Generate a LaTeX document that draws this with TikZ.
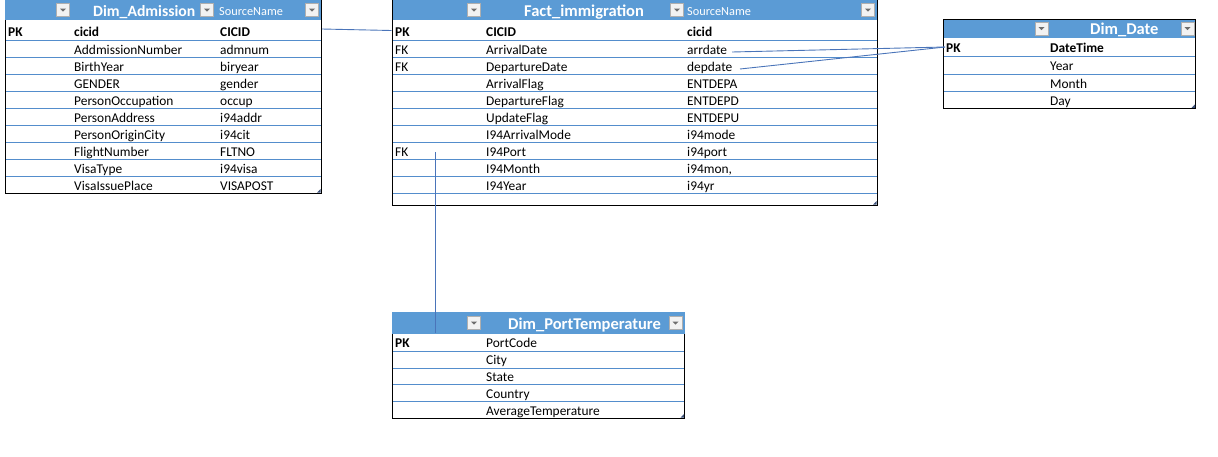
\documentclass[tikz,border=0pt]{standalone}
\usepackage{fontspec}
\setmainfont{Carlito}
\definecolor{hdr}{RGB}{91,155,213}
\definecolor{rowline}{RGB}{84,141,204}
\definecolor{connc}{RGB}{74,116,185}
\definecolor{btnfill}{RGB}{242,242,242}
\definecolor{btnline}{RGB}{175,175,175}
\definecolor{tric}{RGB}{110,110,110}
\definecolor{handlec}{RGB}{60,80,120}
\tikzset{
  cell/.style={anchor=base west, inner sep=0pt, yshift=-1pt, font=\fontsize{13.4}{15}\selectfont},
  bcell/.style={anchor=base west, inner sep=0pt, yshift=-1pt, font=\fontsize{13.4}{15}\selectfont\bfseries},
  ttl/.style={anchor=base west, inner sep=0pt, text=white, font=\fontsize{16.5}{19}\selectfont\bfseries},
  srcname/.style={anchor=base west, inner sep=0pt, text=white, font=\fontsize{12.3}{14}\selectfont},
  rowsep/.style={draw=rowline, line width=0.8pt},
  frame/.style={draw=black, line width=1pt},
  conn/.style={draw=connc, line width=0.9pt},
  btn/.style={draw=btnline, fill=btnfill, minimum size=13pt, inner sep=0pt, line width=0.6pt},
}
\newcommand\ddbtn[3]{%
  \node[btn] (#1) at (#2,#3) {};
  \fill[tric] ([xshift=-3pt,yshift=1.5pt]#1.center) -- ++(6pt,0pt) -- ++(-3pt,-3.2pt) -- cycle;}
\newcommand\rhandle[2]{\fill[handlec] (#1-3.5,#2) -- (#1,#2) -- (#1,#2-3.5) -- cycle;}
\begin{document}
\begin{tikzpicture}[x=1pt,y=-1pt]
\useasboundingbox (0,0) rectangle (1218,456);

% ---------------- Dim_Admission ----------------
\fill[hdr] (5,0) rectangle (321,20);
\foreach \y in {40.5,57.5,74.5,91.5,108.5,125.5,142.5,159.5,176.5}
  \draw[rowsep] (5,\y) -- (321,\y);
\draw[frame] (5,20) -- (5,193) -- (321.5,193) -- (321.5,0);
\rhandle{320.5}{192.5}
\ddbtn{admB1}{63}{10}
\ddbtn{admB2}{207}{10}
\ddbtn{admB3}{312}{10}
\node[ttl, font=\fontsize{15.7}{19}\selectfont\bfseries] (admT) at (93,16) {Dim\_Admission};
\node[srcname] (admS) at (219,15) {SourceName};
\node[bcell] (admPK) at (8,35) {PK};
\node[bcell] (adm0a) at (74,35) {cicid};
\node[bcell] (adm0b) at (220,35) {CICID};
\node[cell] (adm1a) at (74,53.3) {AddmissionNumber};
\node[cell] (adm1b) at (220,53.3) {admnum};
\node[cell] (adm2a) at (74,70.3) {BirthYear};
\node[cell] (adm2b) at (220,70.3) {biryear};
\node[cell] (adm3a) at (74,87.3) {GENDER};
\node[cell] (adm3b) at (220,87.3) {gender};
\node[cell] (adm4a) at (74,104.3) {PersonOccupation};
\node[cell] (adm4b) at (220,104.3) {occup};
\node[cell] (adm5a) at (74,121.3) {PersonAddress};
\node[cell] (adm5b) at (220,121.3) {i94addr};
\node[cell] (adm6a) at (74,138.3) {PersonOriginCity};
\node[cell] (adm6b) at (220,138.3) {i94cit};
\node[cell] (adm7a) at (74,155.3) {FlightNumber};
\node[cell] (adm7b) at (220,155.3) {FLTNO};
\node[cell] (adm8a) at (74,172.3) {VisaType};
\node[cell] (adm8b) at (220,172.3) {i94visa};
\node[cell] (adm9a) at (74,189.3) {VisaIssuePlace};
\node[cell] (adm9b) at (220,189.3) {VISAPOST};

% ---------------- Fact_immigration ----------------
\fill[hdr] (392,0) rectangle (877,20);
\foreach \y in {40.5,57.5,74.5,91.5,108.5,125.5,142.5,159.5,176.5,193.5}
  \draw[rowsep] (392,\y) -- (877,\y);
\draw[frame] (392,0) -- (392,205) -- (877.5,205) -- (877.5,0);
\rhandle{876.5}{204.5}
\ddbtn{facB1}{474}{10}
\ddbtn{facB2}{677}{10}
\ddbtn{facB3}{868}{10}
\node[ttl] (facT) at (524,16) {Fact\_immigration};
\node[srcname] (facS) at (687,15) {SourceName};
\node[bcell] (facPK) at (395,35) {PK};
\node[bcell] (fac0a) at (486,35) {CICID};
\node[bcell] (fac0b) at (687,35) {cicid};
\node[cell] (facFK1) at (395,53.3) {FK};
\node[cell] (fac1a) at (486,53.3) {ArrivalDate};
\node[cell] (fac1b) at (687,53.3) {arrdate};
\node[cell] (facFK2) at (395,70.3) {FK};
\node[cell] (fac2a) at (486,70.3) {DepartureDate};
\node[cell] (fac2b) at (687,70.3) {depdate};
\node[cell] (fac3a) at (486,87.3) {ArrivalFlag};
\node[cell] (fac3b) at (687,87.3) {ENTDEPA};
\node[cell] (fac4a) at (486,104.3) {DepartureFlag};
\node[cell] (fac4b) at (687,104.3) {ENTDEPD};
\node[cell] (fac5a) at (486,121.3) {UpdateFlag};
\node[cell] (fac5b) at (687,121.3) {ENTDEPU};
\node[cell] (fac6a) at (486,138.3) {I94ArrivalMode};
\node[cell] (fac6b) at (687,138.3) {i94mode};
\node[cell] (facFK3) at (395,155.3) {FK};
\node[cell] (fac7a) at (486,155.3) {I94Port};
\node[cell] (fac7b) at (687,155.3) {i94port};
\node[cell] (fac8a) at (486,172.3) {I94Month};
\node[cell] (fac8b) at (687,172.3) {i94mon,};
\node[cell] (fac9a) at (486,189.3) {I94Year};
\node[cell] (fac9b) at (687,189.3) {i94yr};

% ---------------- Dim_Date ----------------
\fill[hdr] (943.5,19) rectangle (1195.5,38);
\foreach \y in {56.7,74.3,91}
  \draw[rowsep] (943.5,\y) -- (1195.5,\y);
\draw[frame] (943.5,19) rectangle (1195.5,108.3);
\rhandle{1195}{107.8}
\ddbtn{datB1}{1041.5}{28.5}
\ddbtn{datB2}{1187.5}{28.5}
\node[ttl] (datT) at (1090,34.5) {Dim\_Date};
\node[bcell] (datPK) at (946,51.8) {PK};
\node[bcell] (dat0) at (1050,51.8) {DateTime};
\node[cell] (dat1) at (1050,69.8) {Year};
\node[cell] (dat2) at (1050,87) {Month};
\node[cell] (dat3) at (1050,104) {Day};

% ---------------- Dim_PortTemperature ----------------
\fill[hdr] (392,312) rectangle (684.5,334);
\foreach \y in {351,368,384.5,401}
  \draw[rowsep] (392,\y) -- (684.5,\y);
\draw[frame] (392,334) -- (392,418) -- (684.5,418) -- (684.5,334);
\rhandle{684}{417.5}
\ddbtn{porB1}{474}{323}
\ddbtn{porB2}{675.5}{323}
\node[ttl] (porT) at (508,329) {Dim\_PortTemperature};
\node[bcell] (porPK) at (395,346.8) {PK};
\node[cell] (por0) at (486,346.8) {PortCode};
\node[cell] (por1) at (486,363.8) {City};
\node[cell] (por2) at (486,380.3) {State};
\node[cell] (por3) at (486,397) {Country};
\node[cell] (por4) at (486,414) {AverageTemperature};

% ---------------- connectors ----------------
\coordinate (admEnd) at (322,29);
\coordinate (facPKEnd) at (391.5,30.5);
\coordinate (arrEnd) at (732,52);
\coordinate (depEnd) at (740,69);
\coordinate (datEnd) at (945,47);
\coordinate (portStart) at (435,152);
\coordinate (portEnd) at (435,333);
\draw[conn] (admEnd) -- (facPKEnd);
\draw[conn] (arrEnd) -- (datEnd);
\draw[conn] (depEnd) -- (datEnd);
\draw[conn] (portStart) -- (portEnd);
\end{tikzpicture}
\end{document}
